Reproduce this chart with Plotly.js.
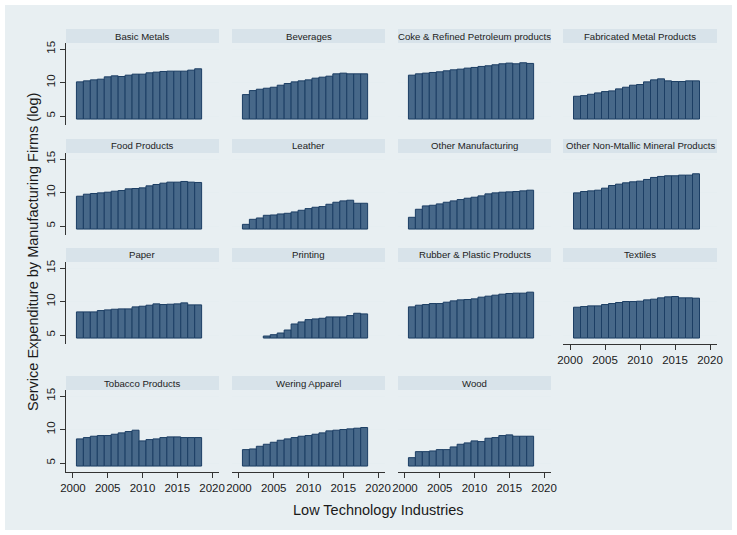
<!DOCTYPE html>
<html><head><meta charset="utf-8">
<script src="https://cdn.plot.ly/plotly-3.0.1.min.js"></script>
<style>html,body{margin:0;padding:0;background:#fff}#chart{width:737px;height:535px}</style>
</head><body><div id="chart"></div>
<script>
const years = [2001,2002,2003,2004,2005,2006,2007,2008,2009,2010,2011,2012,2013,2014,2015,2016,2017,2018];
const panelNames = ["Basic Metals","Beverages","Coke & Refined Petroleum products","Fabricated Metal Products",
  "Food Products","Leather","Other Manufacturing","Other Non-Mtallic Mineral Products",
  "Paper","Printing","Rubber & Plastic Products","Textiles",
  "Tobacco Products","Wering Apparel","Wood"];
const basicMetals   = [10.1,10.25,10.4,10.5,10.85,11.0,10.9,11.1,11.25,11.25,11.45,11.55,11.65,11.7,11.7,11.7,11.85,12.05];
const beverages     = [8.2,8.8,9.0,9.15,9.3,9.6,9.85,10.1,10.25,10.4,10.65,10.8,10.95,11.3,11.4,11.3,11.3,11.3];
const cokePetroleum = [11.1,11.3,11.4,11.5,11.6,11.75,11.9,12.0,12.15,12.25,12.4,12.5,12.65,12.8,12.9,12.8,12.95,12.85];
const fabricated    = [7.95,8.05,8.25,8.45,8.65,8.75,9.05,9.3,9.6,9.7,10.1,10.4,10.55,10.25,10.15,10.15,10.25,10.25];
const food          = [9.45,9.75,9.85,9.95,10.05,10.2,10.3,10.55,10.6,10.7,11.0,11.2,11.4,11.55,11.55,11.65,11.55,11.5];
const leather       = [5.25,6.0,6.2,6.6,6.65,6.8,6.9,7.1,7.35,7.6,7.8,7.9,8.25,8.55,8.75,8.85,8.4,8.4];
const otherManuf    = [6.3,7.5,8.0,8.1,8.3,8.55,8.75,8.95,9.15,9.3,9.5,9.8,9.95,10.05,10.1,10.15,10.25,10.35];
const nonMetallic   = [9.95,10.15,10.25,10.35,10.65,11.05,11.25,11.45,11.6,11.7,11.95,12.25,12.4,12.5,12.5,12.6,12.6,12.8];
const paper         = [8.45,8.45,8.45,8.65,8.75,8.85,8.9,8.9,9.2,9.3,9.45,9.65,9.55,9.6,9.65,9.8,9.5,9.5];
const printing      = [null,null,null,4.85,5.05,5.3,5.75,6.65,6.95,7.3,7.4,7.5,7.7,7.7,7.7,7.9,8.25,8.15];
const rubberPlastic = [9.2,9.45,9.55,9.7,9.7,9.9,10.1,10.25,10.3,10.4,10.65,10.8,10.95,11.1,11.2,11.25,11.25,11.4];
const textiles      = [9.15,9.25,9.35,9.35,9.55,9.7,9.85,10.0,10.0,10.05,10.25,10.35,10.55,10.7,10.75,10.55,10.55,10.5];
const tobacco       = [8.6,8.8,9.0,9.1,9.1,9.3,9.5,9.7,9.9,8.3,8.5,8.6,8.8,8.9,8.9,8.8,8.8,8.8];
const weringApparel = [7.0,7.1,7.5,7.8,8.1,8.4,8.6,8.8,9.0,9.1,9.3,9.5,9.8,9.9,10.0,10.1,10.2,10.3];
const wood          = [5.8,6.7,6.7,6.8,7.0,7.0,7.4,7.8,8.0,8.3,8.2,8.7,8.8,9.1,9.2,9.0,9.0,9.0];
const seriesList = [basicMetals,beverages,cokePetroleum,fabricated,food,leather,otherManuf,nonMetallic,
  paper,printing,rubberPlastic,textiles,tobacco,weringApparel,wood];
const yTickVals = [5,10,15];
const xTickVals = [2000,2005,2010,2015,2020];
const barBase = 4.55;

const W = 737, H = 535;
const colX = [[66,219],[232,385],[398,551],[563,717]];
const rowTop = [29,139,248,376];
const headerH = 14, plotH = 82;
const fontFam = "Liberation Sans, Arial, sans-serif";

const data = [];
const layout = {
  width: W, height: H,
  margin: {l:0,r:0,t:0,b:0},
  paper_bgcolor: "#ffffff",
  plot_bgcolor: "#ffffff",
  showlegend: false,
  font: {family: fontFam, color: "#1a1a1a"},
  bargap: 0,
  shapes: [{type:"rect", xref:"paper", yref:"paper", x0:5/W, x1:732/W, y0:1-530/H, y1:1-5/H,
            fillcolor:"#e8eff2", line:{width:0}, layer:"below"}],
  annotations: []
};

seriesList.forEach((vals, i) => {
  const r = Math.floor(i/4), c = i%4;
  const n = i === 0 ? "" : String(i+1);
  const top = rowTop[r];
  const xd = [colX[c][0]/W, colX[c][1]/W];
  const yd = [1-(top+headerH+plotH)/H, 1-(top+headerH)/H];
  const showX = (i >= 12) || (i === 11);
  const showY = (c === 0);
  data.push({
    type: "bar", x: years, y: vals.map(v => v === null ? null : v - barBase), base: barBase,
    xaxis: "x"+n, yaxis: "y"+n, width: 1,
    marker: {color: "rgb(71,104,137)", line: {color: "rgb(28,62,100)", width: 1}},
    hoverinfo: "skip"
  });
  layout["xaxis"+n] = {
    domain: xd, anchor: "y"+n, range: [1999, 2021],
    tickvals: xTickVals, showticklabels: showX, ticks: showX ? "outside" : "",
    ticklen: 5, tickcolor: "#333", showline: showX, linecolor: "#333", linewidth: 1,
    showgrid: false, zeroline: false,
    tickfont: {size: 11.5, color: "#1a1a1a", family: fontFam}, fixedrange: true
  };
  layout["yaxis"+n] = {
    domain: yd, anchor: "x"+n, range: [3.66, 15.9],
    tickvals: yTickVals, showticklabels: showY, ticks: showY ? "outside" : "",
    ticklen: 5, tickcolor: "#333", showline: showY, linecolor: "#333", linewidth: 1,
    tickangle: -90,
    showgrid: true, gridcolor: "#e6eef1", gridwidth: 1, zeroline: false,
    tickfont: {size: 11.5, color: "#1a1a1a", family: fontFam}, fixedrange: true
  };
  layout.shapes.push({type:"rect", xref:"paper", yref:"paper",
    x0: xd[0], x1: xd[1], y0: 1-(top+headerH)/H, y1: 1-top/H,
    fillcolor:"#d8e3ea", line:{width:0}, layer:"below"});
  layout.annotations.push({xref:"paper", yref:"paper", x:(xd[0]+xd[1])/2, y:1-(top+headerH/2)/H,
    text: panelNames[i], showarrow:false, xanchor:"center", yanchor:"middle",
    font:{size:9.6, color:"#222", family: fontFam}});
});

layout.annotations.push({xref:"paper", yref:"paper", x:33/W, y:1-252/H, text:"Service Expenditure by Manufacturing Firms (log)",
  textangle:-90, showarrow:false, xanchor:"center", yanchor:"middle", font:{size:14.5, color:"#1a1a1a", family: fontFam}});
layout.annotations.push({xref:"paper", yref:"paper", x:378/W, y:1-510/H, text:"Low Technology Industries",
  showarrow:false, xanchor:"center", yanchor:"middle", font:{size:14.5, color:"#1a1a1a", family: fontFam}});

Plotly.newPlot("chart", data, layout, {displayModeBar: false, staticPlot: true});
</script>
</body></html>
